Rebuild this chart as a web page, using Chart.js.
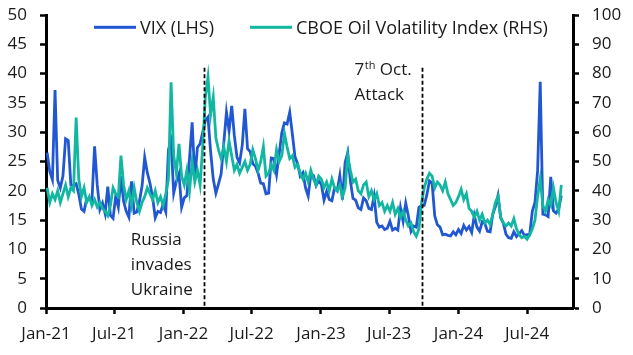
<!DOCTYPE html>
<html><head><meta charset="utf-8">
<script src="https://cdn.jsdelivr.net/npm/chart.js@4.4.1/dist/chart.umd.min.js"></script>
<style>html,body{margin:0;padding:0;background:#fff;}#wrap{width:633px;height:355px;}</style>
</head><body><div id="wrap"><canvas id="c" width="633" height="355"></canvas></div>
<script>
// Weekly observations (Mondays), first week beginning 4 Jan 2021
const firstWeek = '2021-01-04';
const seriesNames = ['VIX (LHS)', 'CBOE Oil Volatility Index (RHS)'];
const vix = [
26.5,23.3,21.9,37.2,21.8,20.5,22.5,28.9,28.6,21.0,20.9,21.2,19.4,16.9,16.5,18.7,18.6,18.4,27.6,21.0,16.8,17.9,16.1,20.7,15.8,15.3,19.0,17.2,22.5,18.2,16.5,15.5,21.6,16.2,16.4,18.2,20.8,25.7,23.1,21.3,18.9,15.4,16.5,16.3,17.7,16.4,27.0,28.5,19.6,21.6,22.9,17.2,
18.8,19.2,25.6,31.7,22.1,27.4,28.0,30.0,32.0,32.6,26.7,22.0,19.6,21.2,22.9,28.2,33.4,30.2,34.5,29.4,25.7,24.8,27.8,34.0,27.2,26.7,24.6,24.2,23.0,21.3,21.2,19.5,19.6,25.6,25.5,22.8,26.3,29.9,31.6,31.4,33.4,29.7,25.8,24.6,22.5,23.1,20.5,19.1,22.8,22.6,20.9,21.7,
21.1,18.4,19.9,18.5,18.3,20.5,20.0,22.6,18.5,24.8,26.5,21.7,18.7,18.4,17.1,16.8,18.8,18.3,17.0,16.8,19.1,14.6,13.8,14.0,13.4,13.6,14.8,13.3,13.6,13.3,17.1,14.8,17.9,15.7,13.1,14.0,13.8,17.2,17.5,17.5,19.3,21.7,21.3,15.7,14.2,13.8,12.5,12.6,12.4,12.3,13.0,12.5,
13.4,12.7,14.1,13.3,13.9,12.9,15.8,13.8,13.1,14.7,14.4,13.1,13.0,16.0,17.3,19.2,15.4,14.5,12.6,12.0,11.9,13.0,12.2,12.7,13.2,12.4,12.5,12.5,16.5,18.0,23.4,38.6,16.0,15.9,15.6,22.4,16.6,16.2,16.9,19.2
];
const ovx = [
41,36,39,37,40,36,39,42,38,41,40,65,44,38,41,36,38,35,37,34.5,36,34,33,31.5,35,41,39,38,52,42,37,40,35,41,36,33,36,38,41,39,37,40,36,38,35,39,44,77,52,46,56,45,
42,47,40,50,43,47,42,55,72,78.8,66,72,58,54,51,55,50,57,52,47,49,46,48,50,47,49,54,51,47,50,55,45,46,49,47,54,50,52,59.5,55,51,52,48,49,46,44,46,43,47,44,42,45,
44,41,43,40,44,41,40,42,38,41,52,47,43,44,40,39,42,43,38,40,37,39,35,36,33,35,33,36,32,34,31,33,30,28,29,26,24.5,27,36,41,44,46,45,41,43,42,40,43,39,37,35,36,
38,40.5,37,39,34,33,31,33,30,32,29,30,28.5,32,36,38,31,29,28,29,28,30.5,27,25,24,24.5,23.5,25,27,30,38,44,35,33,37,35,41,36,33,42
];
// x axis: days since 1 Jan 2021
const tickDays = [0, 181, 365, 546, 730, 911, 1095, 1277];
const tickLabels = ['Jan-21','Jul-21','Jan-22','Jul-22','Jan-23','Jul-23','Jan-24','Jul-24'];
const eventDays = [419, 997];

const DAY = 86400000;
const origin = Date.UTC(2021, 0, 1);
const start = Date.parse(firstWeek + 'T00:00:00Z');
const weekDays = vix.map((_, i) => Math.round((start - origin) / DAY) + 7 * i);
const toPts = arr => arr.map((v, i) => ({x: weekDays[i], y: v}));

const FONT = '"Open Sans", "DejaVu Sans", sans-serif';
const TXT = '#1a1a1a';
const COLORS = ['#2157d2', '#12b7a1'];

const overlay = {
  id: 'overlay',
  afterDatasetsDraw(chart) {
    const ctx = chart.ctx, xs = chart.scales.x, yl = chart.scales.y;
    ctx.save();
    ctx.strokeStyle = '#000';
    ctx.lineWidth = 1.8;
    ctx.setLineDash([4, 2.5]);
    eventDays.forEach(d => {
      const px = Math.round(xs.getPixelForValue(d)) + 0.5;
      ctx.beginPath();
      ctx.moveTo(px, yl.getPixelForValue(41));
      ctx.lineTo(px, yl.getPixelForValue(0));
      ctx.stroke();
    });
    ctx.restore();
  },
  afterDraw(chart) {
    const ctx = chart.ctx, xs = chart.scales.x, yl = chart.scales.y;
    ctx.save();
    ctx.fillStyle = TXT;
    ctx.textBaseline = 'alphabetic';
    ctx.textAlign = 'left';
    ctx.font = '17px ' + FONT;
    // Russia annotation
    const x1 = xs.getPixelForValue(eventDays[0]) - 73;
    ctx.fillText('Russia', x1, yl.getPixelForValue(10.69));
    ctx.fillText('invades', x1, yl.getPixelForValue(6.43));
    ctx.fillText('Ukraine', x1, yl.getPixelForValue(2.28));
    // 7th Oct annotation
    const x2 = xs.getPixelForValue(eventDays[1]) - 67;
    const b1 = yl.getPixelForValue(39.84);
    ctx.fillText('7', x2, b1);
    let w = ctx.measureText('7').width;
    ctx.font = '11px ' + FONT;
    ctx.fillText('th', x2 + w + 0.5, b1 - 6);
    w += ctx.measureText('th').width + 0.5;
    ctx.font = '17px ' + FONT;
    ctx.fillText(' Oct.', x2 + w, b1);
    ctx.fillText('Attack', x2, yl.getPixelForValue(35.58));
    // legend
    ctx.font = '18px ' + FONT;
    let lx = chart.chartArea.left + 48;
    const ly = 27.3;
    chart.data.datasets.forEach(ds => {
      ctx.fillStyle = ds.borderColor;
      ctx.fillRect(lx, ly - 1.5, 42, 3);
      lx += 46;
      ctx.fillStyle = TXT;
      ctx.fillText(ds.label, lx, 34.3);
      lx += ctx.measureText(ds.label).width + 36;
    });
    ctx.restore();
  }
};

const axisGrid = {display: true, drawOnChartArea: false, drawTicks: true, tickLength: 6, tickWidth: 2.5, tickColor: '#000'};
const axisBorder = {display: true, color: '#000', width: 3};
const fitV = w => s => { s.width = w; s.paddingTop = 0; s.paddingBottom = 0; };

new Chart(document.getElementById('c'), {
  type: 'line',
  data: {
    datasets: [
      {label: seriesNames[0], data: toPts(vix), yAxisID: 'y', borderColor: COLORS[0], backgroundColor: COLORS[0], borderWidth: 2.8, pointRadius: 0, tension: 0, order: 1},
      {label: seriesNames[1], data: toPts(ovx), yAxisID: 'y1', borderColor: COLORS[1], backgroundColor: COLORS[1], borderWidth: 2.8, pointRadius: 0, tension: 0, order: 0}
    ]
  },
  options: {
    responsive: false,
    animation: false,
    devicePixelRatio: 1,
    layout: {padding: {top: 15, left: 0, right: 0, bottom: 0}},
    plugins: {legend: {display: false}, tooltip: {enabled: false}},
    scales: {
      x: {
        type: 'linear', min: 0, max: 1399,
        grid: axisGrid, border: axisBorder,
        afterBuildTicks: s => { s.ticks = tickDays.map(v => ({value: v})); },
        afterFit: s => { s.height = 47; s.paddingLeft = 0; s.paddingRight = 0; },
        ticks: {
          autoSkip: false, maxRotation: 0, padding: 10, color: TXT,
          font: {family: FONT, size: 17},
          callback: v => tickLabels[tickDays.indexOf(v)]
        }
      },
      y: {
        position: 'left', min: 0, max: 50,
        grid: axisGrid, border: axisBorder,
        afterFit: fitV(46),
        ticks: {stepSize: 5, padding: 13, color: TXT, font: {family: FONT, size: 17}}
      },
      y1: {
        position: 'right', min: 0, max: 100,
        grid: axisGrid, border: axisBorder,
        afterFit: fitV(60),
        ticks: {stepSize: 10, padding: 13, color: TXT, font: {family: FONT, size: 17}}
      }
    }
  },
  plugins: [overlay]
});
</script></body></html>
